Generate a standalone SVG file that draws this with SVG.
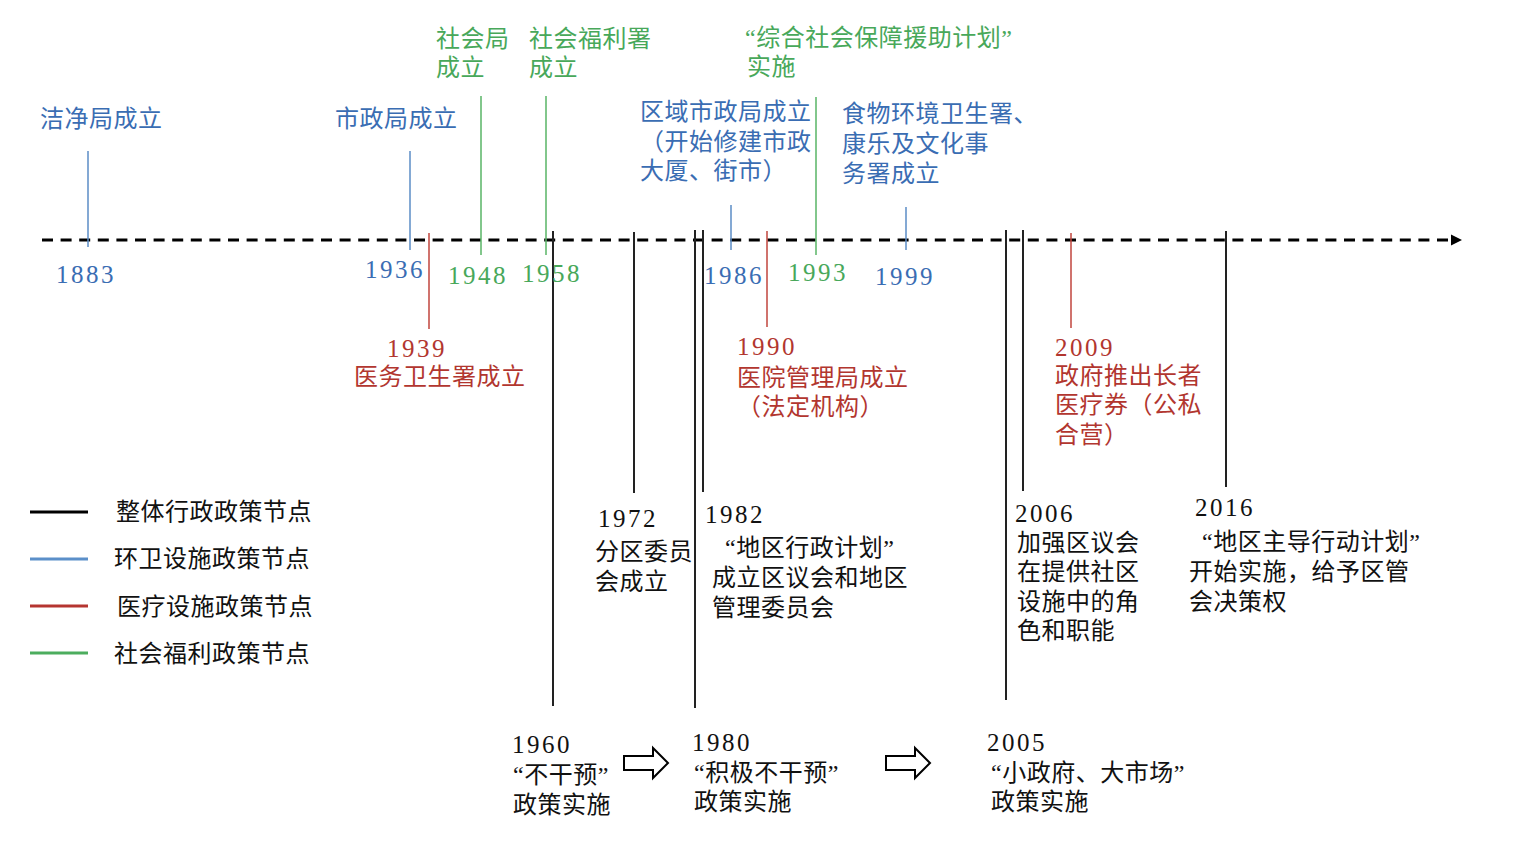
<svg xmlns="http://www.w3.org/2000/svg" width="1531" height="841" viewBox="0 0 1531 841">
<style>
.cn{font-family:"Liberation Serif","Noto Sans CJK SC",sans-serif;font-size:24px;letter-spacing:0.5px}
.yr{font-family:"Liberation Serif","Noto Serif",serif;font-size:25px;letter-spacing:2.5px}
.b{fill:#3a6db3}
.r{fill:#b2362f}
.g{fill:#48a85a}
.k{fill:#111}
.lb{stroke:#5b8cc6;stroke-width:1.5;fill:none}
.lr{stroke:#c0453c;stroke-width:1.5;fill:none}
.lg{stroke:#58b566;stroke-width:1.5;fill:none}
.lk{stroke:#222;stroke-width:2;fill:none}
</style>
<defs>
<marker id="ah" viewBox="0 0 10 10" refX="0" refY="5" markerWidth="3.6" markerHeight="3.6" orient="auto" markerUnits="strokeWidth">
<path d="M0,0 L10,5 L0,10 Z" fill="#000"/>
</marker>
</defs>
<rect width="1531" height="841" fill="#fff"/>

<g id="axis">
<line x1="42" y1="240" x2="1450" y2="240" stroke="#000" stroke-width="3" stroke-dasharray="11 7.6"/>
<path d="M1451,234.5 L1462,240 L1451,245.5 Z" fill="#000"/>
</g>

<g id="connectors">
<line class="lb" x1="88" y1="151" x2="88" y2="247"/>
<line class="lb" x1="410" y1="151" x2="410" y2="250"/>
<line class="lr" x1="429" y1="233" x2="429" y2="329"/>
<line class="lg" x1="481" y1="96" x2="481" y2="255"/>
<line class="lg" x1="546" y1="96" x2="546" y2="255"/>
<line class="lk" x1="553" y1="231" x2="553" y2="706"/>
<line class="lk" x1="634" y1="232" x2="634" y2="493"/>
<line class="lk" x1="695" y1="230" x2="695" y2="708"/>
<line class="lk" x1="703" y1="230" x2="703" y2="492"/>
<line class="lb" x1="731" y1="205" x2="731" y2="250"/>
<line class="lr" x1="767" y1="231" x2="767" y2="327"/>
<line class="lg" x1="816" y1="97" x2="816" y2="255"/>
<line class="lb" x1="906" y1="207" x2="906" y2="250"/>
<line class="lk" x1="1006" y1="230" x2="1006" y2="700"/>
<line class="lk" x1="1023" y1="230" x2="1023" y2="491"/>
<line class="lr" x1="1071" y1="233" x2="1071" y2="328"/>
<line class="lk" x1="1226" y1="231" x2="1226" y2="487"/>
</g>

<g id="n1883">
<text class="cn b" x="40" y="127">洁净局成立</text>
<text class="yr b" x="56" y="283">1883</text>
</g>
<g id="n1936">
<text class="cn b" x="335" y="127">市政局成立</text>
<text class="yr b" x="365" y="278">1936</text>
</g>
<g id="n1939">
<text class="yr r" x="387" y="357">1939</text>
<text class="cn r" x="354" y="385">医务卫生署成立</text>
</g>
<g id="n1948">
<text class="cn g" x="436" y="47">社会局</text>
<text class="cn g" x="436" y="76">成立</text>
<text class="yr g" x="448" y="284">1948</text>
</g>
<g id="n1958">
<text class="cn g" x="529" y="47">社会福利署</text>
<text class="cn g" x="529" y="76">成立</text>
<text class="yr g" x="522" y="282">1958</text>
</g>
<g id="n1972">
<text class="yr k" x="598" y="527">1972</text>
<text class="cn k" x="595" y="560">分区委员</text>
<text class="cn k" x="595" y="590">会成立</text>
</g>
<g id="n1982">
<text class="yr k" x="705" y="523">1982</text>
<text class="cn k" x="725" y="556">“地区行政计划”</text>
<text class="cn k" x="712" y="586">成立区议会和地区</text>
<text class="cn k" x="712" y="616">管理委员会</text>
</g>
<g id="n1986">
<text class="cn b" x="640" y="120">区域市政局成立</text>
<text class="cn b" x="640" y="150">（开始修建市政</text>
<text class="cn b" x="640" y="179">大厦、街市）</text>
<text class="yr b" x="704" y="284">1986</text>
</g>
<g id="n1990">
<text class="yr r" x="737" y="355">1990</text>
<text class="cn r" x="737" y="386">医院管理局成立</text>
<text class="cn r" x="737" y="415">（法定机构）</text>
</g>
<g id="n1993">
<text class="cn g" x="745" y="46">“综合社会保障援助计划”</text>
<text class="cn g" x="747" y="75">实施</text>
<text class="yr g" x="788" y="281">1993</text>
</g>
<g id="n1999">
<text class="cn b" x="842" y="122">食物环境卫生署、</text>
<text class="cn b" x="842" y="152">康乐及文化事</text>
<text class="cn b" x="842" y="182">务署成立</text>
<text class="yr b" x="875" y="285">1999</text>
</g>
<g id="n2006">
<text class="yr k" x="1015" y="522">2006</text>
<text class="cn k" x="1017" y="551">加强区议会</text>
<text class="cn k" x="1017" y="580">在提供社区</text>
<text class="cn k" x="1017" y="610">设施中的角</text>
<text class="cn k" x="1017" y="639">色和职能</text>
</g>
<g id="n2009">
<text class="yr r" x="1055" y="356">2009</text>
<text class="cn r" x="1055" y="384">政府推出长者</text>
<text class="cn r" x="1055" y="413">医疗券（公私</text>
<text class="cn r" x="1055" y="443">合营）</text>
</g>
<g id="n2016">
<text class="yr k" x="1195" y="516">2016</text>
<text class="cn k" x="1202" y="550">“地区主导行动计划”</text>
<text class="cn k" x="1189" y="580">开始实施，给予区管</text>
<text class="cn k" x="1189" y="610">会决策权</text>
</g>

<g id="p1960">
<text class="yr k" x="512" y="753">1960</text>
<text class="cn k" x="513" y="783">“不干预”</text>
<text class="cn k" x="513" y="813">政策实施</text>
</g>
<g id="p1980">
<text class="yr k" x="692" y="751">1980</text>
<text class="cn k" x="694" y="781">“积极不干预”</text>
<text class="cn k" x="694" y="810">政策实施</text>
</g>
<g id="p2005">
<text class="yr k" x="987" y="751">2005</text>
<text class="cn k" x="991" y="781">“小政府、大市场”</text>
<text class="cn k" x="991" y="810">政策实施</text>
</g>
<g id="arrows">
<path d="M624,756 H653 V748 L668,763 L653,778 V770 H624 Z" fill="#fff" stroke="#000" stroke-width="2"/>
<path d="M886,756 H915 V748 L930,763 L915,778 V770 H886 Z" fill="#fff" stroke="#000" stroke-width="2"/>
</g>

<g id="legend">
<line x1="30" y1="512" x2="88" y2="512" stroke="#000" stroke-width="3"/>
<line x1="30" y1="559" x2="88" y2="559" stroke="#5b8fc9" stroke-width="3"/>
<line x1="30" y1="606" x2="88" y2="606" stroke="#b53530" stroke-width="3"/>
<line x1="30" y1="653" x2="88" y2="653" stroke="#4cad5e" stroke-width="3"/>
<text class="cn k" x="116" y="520">整体行政政策节点</text>
<text class="cn k" x="114" y="567">环卫设施政策节点</text>
<text class="cn k" x="117" y="615">医疗设施政策节点</text>
<text class="cn k" x="114" y="662">社会福利政策节点</text>
</g>
</svg>
